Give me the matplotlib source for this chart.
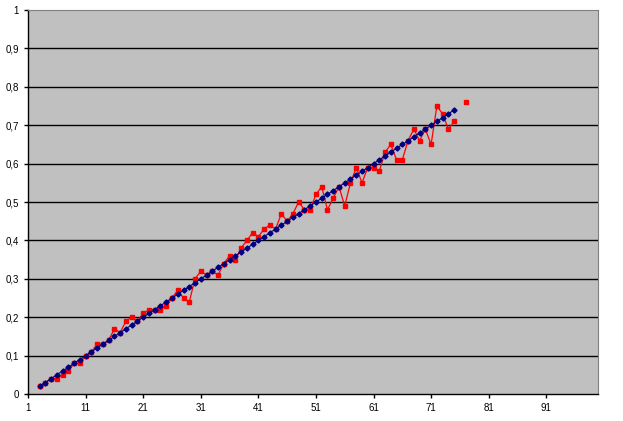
import numpy as np
import matplotlib.pyplot as plt
from matplotlib.ticker import FuncFormatter

plt.rcParams['font.family'] = ['Liberation Sans', 'DejaVu Sans']

# categories (x positions) of the two series
cats_blue = list(range(3, 76))
cats_red = list(range(3, 78))

# straight reference line (blue)
blue = [0.02, 0.03, 0.04, 0.05, 0.06, 0.07, 0.08, 0.09, 0.10, 0.11,
        0.12, 0.13, 0.14, 0.15, 0.16, 0.17, 0.18, 0.19, 0.20, 0.21,
        0.22, 0.23, 0.24, 0.25, 0.26, 0.27, 0.28, 0.29, 0.30, 0.31,
        0.32, 0.33, 0.34, 0.35, 0.36, 0.37, 0.38, 0.39, 0.40, 0.41,
        0.42, 0.43, 0.44, 0.45, 0.46, 0.47, 0.48, 0.49, 0.50, 0.51,
        0.52, 0.53, 0.54, 0.55, 0.56, 0.57, 0.58, 0.59, 0.60, 0.61,
        0.62, 0.63, 0.64, 0.65, 0.66, 0.67, 0.68, 0.69, 0.70, 0.71,
        0.72, 0.73, 0.74]

# measured values (red), one gap at category 76
red = [0.02, 0.03, 0.04, 0.04, 0.05, 0.06, 0.08, 0.08, 0.10, 0.11,
       0.13, 0.13, 0.14, 0.17, 0.16, 0.19, 0.20, 0.19, 0.21, 0.22,
       0.22, 0.22, 0.23, 0.25, 0.27, 0.25, 0.24, 0.30, 0.32, 0.31,
       0.32, 0.31, 0.34, 0.36, 0.35, 0.38, 0.40, 0.42, 0.41, 0.43,
       0.44, 0.43, 0.47, 0.45, 0.47, 0.50, 0.48, 0.48, 0.52, 0.54,
       0.48, 0.51, 0.54, 0.49, 0.55, 0.59, 0.55, 0.59, 0.59, 0.58,
       0.63, 0.65, 0.61, 0.61, 0.66, 0.69, 0.66, 0.69, 0.65, 0.75,
       0.73, 0.69, 0.71, np.nan, 0.76]

x_ticks = [1, 11, 21, 31, 41, 51, 61, 71, 81, 91]
y_ticks = [0, 0.1, 0.2, 0.3, 0.4, 0.5, 0.6, 0.7, 0.8, 0.9, 1]

fig = plt.figure(figsize=(6.23, 4.21), dpi=100)
ax = fig.add_axes([0.045, 0.064, 0.915, 0.912])
ax.set_facecolor('#C0C0C0')

for y in y_ticks[1:-1]:
    ax.axhline(y, color='black', lw=1, zorder=1)

ax.plot(cats_red, red, color='#FF0000', lw=0.9, marker='s', markersize=3.5,
        markeredgecolor='#FF0000', markerfacecolor='#FF0000', zorder=3)
ax.plot(cats_blue, blue, color='#000080', lw=0.8, marker='D', markersize=2.6,
        markeredgecolor='#000080', markerfacecolor='#000080', zorder=4)

ax.set_xlim(1, 100)
ax.set_ylim(0, 1)
ax.set_xticks(x_ticks)
ax.set_yticks(y_ticks)
ax.yaxis.set_major_formatter(FuncFormatter(lambda v, p: ('%g' % v).replace('.', ',')))
ax.tick_params(labelsize=7, length=3, width=1, direction='out', color='black')

for s in ['top', 'right']:
    ax.spines[s].set_color('#808080')
for s in ['left', 'bottom']:
    ax.spines[s].set_color('black')
    ax.spines[s].set_linewidth(1)

fig.savefig('out.png', dpi=100)
